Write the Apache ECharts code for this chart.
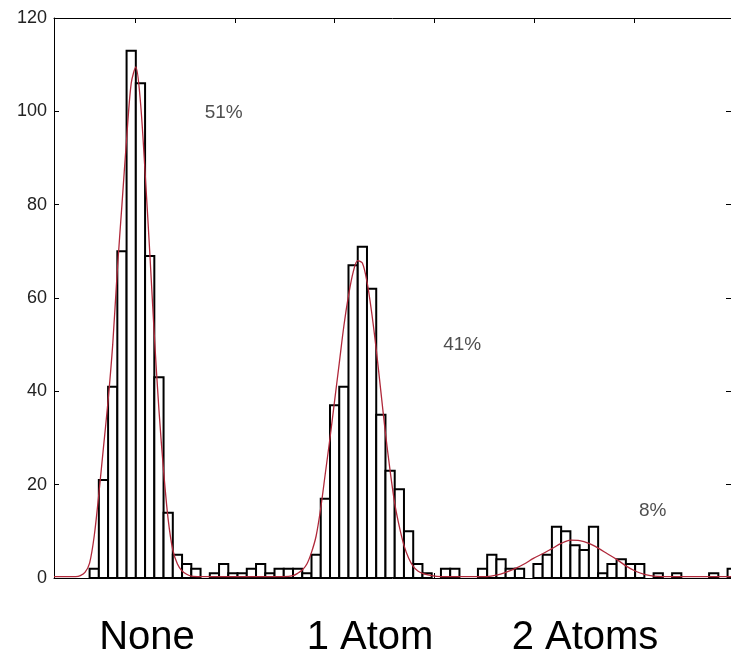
<!DOCTYPE html>
<html>
<head>
<meta charset="utf-8">
<script src="https://cdn.jsdelivr.net/npm/echarts@6/dist/echarts.min.js"></script>
<style>
html, body { margin: 0; padding: 0; background: #fff; }
#main { width: 731px; height: 665px; }
</style>
</head>
<body>
<div id="main"></div>
<script>
// histogram bins (left edge, in bin units) and counts
var binStart = [0,1,2,3,4,5,6,7,8,9,10,11,12,13,14,15,16,17,18,19,20,21,22,23,24,25,26,27,28,29,30,31,32,33,34,35,36,37,38,39,40,41,42,43,44,45,46,47,48,49,50,51,52,53,54,55,56,57,58,59,60,61,62,63,64,65,66,67,68,69,70,71,72,73];
var counts = [0,0,0,0,2,21,41,70,113,106,69,43,14,5,3,2,0,1,3,1,1,2,3,1,2,2,2,1,5,17,37,41,67,71,62,35,23,19,10,3,1,0,2,2,0,0,2,5,4,2,2,0,3,5,11,10,7,6,11,1,3,4,3,3,0,1,0,1,0,0,0,1,0,2];

// fitted curve
var fitX = [0.15,2.5,3,3.5,4,4.5,5,5.5,6,6.5,7,7.5,8,8.5,9,9.5,10,10.5,11,11.5,12,12.5,13,13.5,14,14.5,15,16,
            25,26,26.5,27,27.5,28,28.5,29,29.5,30,30.5,31,31.5,32,32.5,33,33.5,34,34.5,35,35.5,36,36.5,37,37.5,38,38.5,39,39.5,40,41,42,
            46,47,48,49,50,51,52,53,54,55,56,57,58,59,60,61,62,63,64,65,66,73.4];
var fitY = [0.3,0.3,0.5,1.2,3.2,9,18,28,38,50,66,80,94,106,109.5,102,87,70,52,36,23,12.5,6,3,1.5,0.8,0.4,0.3,
            0.3,0.5,1,1.7,3,5.5,9,15,22.5,30,38,46,54,60.5,65.5,68,67.5,63.5,57,49,40,31,23,16,11,7,4.3,2.5,1.5,1,0.5,0.3,
            0.3,0.3,0.6,1.2,2,3,4.2,5.2,6.3,7.4,8.1,8,7.4,6.4,5.2,4,2.6,1.5,0.8,0.4,0.3,0.3];

var xTickValues = [8.9, 19.7, 30.5, 41.3, 52.1, 62.9];
var shares = [['51%', 18.5, 99.6], ['41%', 44.3, 49.9], ['8%', 64.9, 14.4]];
var groups = ['None', '1 Atom', '2 Atoms'];

var barData = binStart.map(function (b, i) { return [b, counts[i]]; });
var fitData = fitX.map(function (x, i) { return [x, fitY[i]]; });

var chart = echarts.init(document.getElementById('main'));

var xAxisBase = {
    type: 'value',
    min: 0.15,
    max: 73.37,
    axisLine: { show: true, onZero: false, lineStyle: { color: '#000', width: 1 } },
    axisTick: { show: true, inside: true, length: 5, customValues: xTickValues, lineStyle: { color: '#000' } },
    axisLabel: { show: false },
    splitLine: { show: false }
};
var yAxisBase = {
    type: 'value',
    min: 0,
    max: 120,
    interval: 20,
    axisLine: { show: true, onZero: false, lineStyle: { color: '#000', width: 1 } },
    axisTick: { show: true, inside: true, length: 5, lineStyle: { color: '#000' } },
    splitLine: { show: false }
};

var groupStyle = { font: '40px "Liberation Sans"', fill: '#000', textAlign: 'center', textVerticalAlign: 'middle' };

chart.setOption({
    animation: false,
    grid: { left: 54, top: 18, right: -1, bottom: 87 },
    xAxis: [
        Object.assign({}, xAxisBase, { position: 'bottom' }),
        Object.assign({}, xAxisBase, { position: 'top' })
    ],
    yAxis: [
        Object.assign({}, yAxisBase, {
            position: 'left',
            axisLabel: { show: true, margin: 7, fontSize: 18, color: '#222', fontFamily: 'Liberation Sans' }
        }),
        Object.assign({}, yAxisBase, { position: 'right', axisLabel: { show: false } })
    ],
    series: [
        {
            type: 'custom',
            clip: true,
            data: barData,
            renderItem: function (params, api) {
                var x0 = api.value(0), h = api.value(1);
                if (!h) return null;
                var p0 = api.coord([x0, 0]);
                var p1 = api.coord([x0 + 1, h]);
                return {
                    type: 'rect',
                    shape: { x: p0[0], y: p1[1], width: p1[0] - p0[0], height: p0[1] - p1[1] },
                    style: { fill: '#fff', stroke: '#000', lineWidth: 2 }
                };
            },
            z: 2
        },
        {
            type: 'line',
            data: fitData,
            smooth: 0.3,
            showSymbol: false,
            lineStyle: { color: '#b0283a', width: 1.3 },
            z: 3
        },
        {
            type: 'scatter',
            symbolSize: 0,
            data: shares.map(function (s) { return { name: s[0], value: [s[1], s[2]] }; }),
            label: {
                show: true,
                position: 'inside',
                formatter: '{b}',
                fontSize: 19,
                color: '#222',
                fontFamily: 'Liberation Sans'
            },
            z: 4
        }
    ],
    graphic: [
        { type: 'text', x: 147, y: 638, style: Object.assign({ text: groups[0] }, groupStyle) },
        { type: 'text', x: 370, y: 638, style: Object.assign({ text: groups[1] }, groupStyle) },
        { type: 'text', x: 585, y: 638, style: Object.assign({ text: groups[2] }, groupStyle) }
    ]
});
</script>
</body>
</html>
